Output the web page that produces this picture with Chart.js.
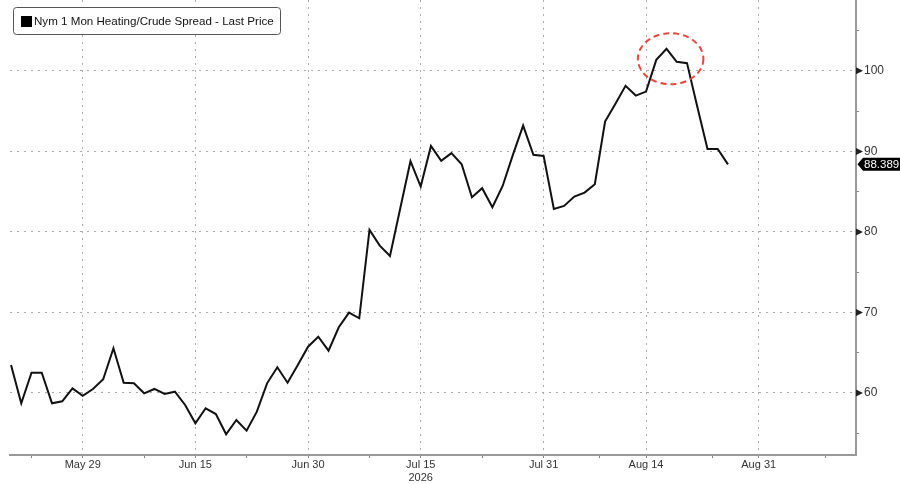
<!DOCTYPE html>
<html>
<head>
<meta charset="utf-8">
<title>Nym 1 Mon Heating/Crude Spread</title>
<script src="https://cdn.jsdelivr.net/npm/chart.js@4/dist/chart.umd.min.js"></script>
<style>
  html, body { margin: 0; padding: 0; background: #fff; }
  canvas { display: block; }
</style>
</head>
<body>
<canvas id="grafico" width="900" height="484"></canvas>
<script>
// Series (one point per trading day, index 0 = May 20)
const seriesName = "Nym 1 Mon Heating/Crude Spread - Last Price";
const prices = [
  63.48, 58.72, 62.52, 62.52, 58.72, 58.97, 60.58, 59.66, 60.50, 61.70,
  65.55, 61.28, 61.20, 59.96, 60.50, 59.88, 60.16, 58.51, 56.24, 58.10,
  57.39, 54.87, 56.65, 55.32, 57.68, 61.20, 63.19, 61.28, 63.48, 65.75,
  66.99, 65.25, 68.16, 69.98, 69.28, 80.25, 78.30, 77.02, 82.90, 88.78,
  85.63, 90.68, 88.82, 89.78, 88.41, 84.31, 85.43, 83.07, 85.71, 89.57,
  93.20, 89.57, 89.44, 82.86, 83.23, 84.39, 84.88, 85.93, 93.70, 95.90,
  98.14, 96.93, 97.43, 101.37, 102.73, 101.12, 100.96, 95.57, 90.31, 90.31,
  88.389
];

// Date axis (positions are trading-day indexes)
const dateTicks = [7, 18, 29, 40, 52, 62, 73];
const dateLabels = ["May 29", "Jun 15", "Jun 30", ["Jul 15", "2026"], "Jul 31", "Aug 14", "Aug 31"];
const minorDateTicks = [2, 13, 23, 35, 46, 57.5, 68.5, 79.5];

// Price axis
const priceTicks = [60, 70, 80, 90, 100];
const minorPriceTicks = [55, 65, 75, 85, 95, 105];

// Highlighted peak (centre index / price and radii)
const peakMark = { x: 64.4, y: 101.5, rx: 3.2, ry: 3.17 };

const tickFont = { family: "'Liberation Sans Narrow', 'Liberation Sans', Arial, sans-serif", size: 11 };
const axisFont = { family: "'Liberation Sans', Arial, sans-serif", size: 12 };

// Legend box, price markers, last price tag and the peak circle
const extras = {
  id: "extras",
  afterDraw(chart) {
    const { ctx, scales: { x, y } } = chart;
    const axisX = y.left;

    // triangles on major price ticks
    ctx.save();
    ctx.fillStyle = "#222";
    priceTicks.forEach(v => {
      const py = y.getPixelForValue(v);
      ctx.beginPath();
      ctx.moveTo(axisX, py - 3.5);
      ctx.lineTo(axisX + 7, py);
      ctx.lineTo(axisX, py + 3.5);
      ctx.closePath();
      ctx.fill();
    });

    // last price tag
    const last = prices[prices.length - 1];
    const ly = y.getPixelForValue(last);
    ctx.fillStyle = "#000";
    ctx.beginPath();
    ctx.moveTo(axisX + 1.5, ly);
    ctx.lineTo(axisX + 7, ly - 6.5);
    ctx.lineTo(900, ly - 6.5);
    ctx.lineTo(900, ly + 6.5);
    ctx.lineTo(axisX + 7, ly + 6.5);
    ctx.closePath();
    ctx.fill();
    ctx.fillStyle = "#fff";
    ctx.font = `11.5px ${tickFont.family}`;
    ctx.textAlign = "left";
    ctx.textBaseline = "middle";
    ctx.fillText(last.toFixed(3), axisX + 8, ly + 0.5);

    // dashed circle round the peak
    const cx = x.getPixelForValue(peakMark.x);
    const cy = y.getPixelForValue(peakMark.y);
    const rx = x.getPixelForValue(peakMark.x + peakMark.rx) - cx;
    const ry = cy - y.getPixelForValue(peakMark.y + peakMark.ry);
    ctx.strokeStyle = "#e8463a";
    ctx.lineWidth = 2;
    ctx.setLineDash([6, 4]);
    ctx.beginPath();
    ctx.ellipse(cx, cy, rx, ry, 0, 0, Math.PI * 2);
    ctx.stroke();
    ctx.setLineDash([]);

    // legend
    ctx.fillStyle = "#fff";
    ctx.strokeStyle = "#555";
    ctx.lineWidth = 1;
    ctx.beginPath();
    ctx.roundRect(13.5, 7.5, 267, 27, 3);
    ctx.fill();
    ctx.stroke();
    ctx.fillStyle = "#000";
    ctx.fillRect(21, 16, 11, 11);
    ctx.fillStyle = "#111";
    ctx.font = `11.6px ${axisFont.family}`;
    ctx.textBaseline = "middle";
    ctx.fillText(seriesName, 34, 21.5);
    ctx.restore();
  }
};

const isMajorDate = v => dateTicks.includes(v);
const isMajorPrice = v => priceTicks.includes(v);

new Chart(document.getElementById("grafico"), {
  type: "line",
  data: {
    datasets: [{
      label: seriesName,
      data: prices.map((v, i) => ({ x: i, y: v })),
      borderColor: "#111",
      borderWidth: 2,
      pointRadius: 0,
      tension: 0
    }]
  },
  options: {
    responsive: false,
    animation: false,
    layout: { padding: { left: 10, top: 0, right: 0, bottom: 0 } },
    plugins: { legend: { display: false }, tooltip: { enabled: false } },
    scales: {
      x: {
        type: "linear",
        min: -0.1,
        max: 82.5,
        afterFit: s => { s.height = 29; s.paddingLeft = 0; s.paddingRight = 0; },
        afterBuildTicks: s => {
          s.ticks = [...dateTicks, ...minorDateTicks].sort((a, b) => a - b).map(v => ({ value: v }));
        },
        ticks: {
          autoSkip: false,
          maxRotation: 0,
          padding: 0,
          color: "#333",
          font: tickFont,
          callback: v => {
            const k = dateTicks.indexOf(v);
            return k < 0 ? "" : dateLabels[k];
          }
        },
        grid: {
          color: c => (c.tick && isMajorDate(c.tick.value) ? "#aaa" : "rgba(0,0,0,0)"),
          lineWidth: 1,
          tickColor: "#888",
          tickLength: 3,
          tickBorderDash: []
        },
        border: { color: "#999", width: 2, dash: [2, 5] }
      },
      y: {
        position: "right",
        min: 52.3,
        max: 108.8,
        afterFit: s => { s.width = 44; s.paddingTop = 0; s.paddingBottom = 0; },
        afterBuildTicks: s => {
          s.ticks = [...priceTicks, ...minorPriceTicks].sort((a, b) => a - b).map(v => ({ value: v }));
        },
        ticks: {
          padding: 5,
          color: "#333",
          font: axisFont,
          callback: v => (isMajorPrice(v) ? String(v) : "")
        },
        grid: {
          color: c => (c.tick && isMajorPrice(c.tick.value) ? "#aaa" : "rgba(0,0,0,0)"),
          lineWidth: 1,
          tickColor: c => (c.tick && isMajorPrice(c.tick.value) ? "rgba(0,0,0,0)" : "#888"),
          tickLength: 3,
          tickBorderDash: []
        },
        border: { color: "#999", width: 2, dash: [2, 5] }
      }
    }
  },
  plugins: [extras]
});
</script>
</body>
</html>
